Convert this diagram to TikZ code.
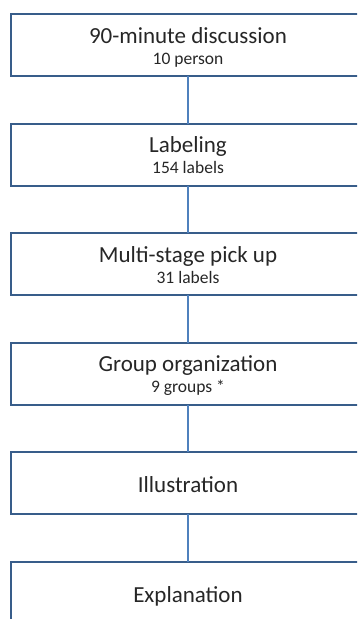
\documentclass[tikz,border=0pt]{standalone}
\usepackage{fontspec}
\setmainfont{Carlito}
\usepackage{tikz}
\usetikzlibrary{positioning}
\definecolor{boxblue}{RGB}{56,93,138}
\definecolor{linkblue}{RGB}{79,129,189}
\definecolor{textgray}{RGB}{38,38,38}
\tikzset{stepbox/.style={
    % The shape:
    rectangle,
    % The size:
    minimum width=354pt,
    minimum height=62pt,
    inner sep=0pt,
    outer sep=0pt,
    % The border:
    line width=2pt,
    draw=boxblue,
    % Font
    font=\fontsize{23}{21}\selectfont,
    text=textgray,
    align=center
    },
    onestep/.style={
    stepbox,
    text height=20pt,
    text depth=2pt,
    },
    link/.style={
    line width=1.3pt,
    draw=linkblue,
    },
}
\newcommand{\steptitle}[1]{\rule{0pt}{22pt}#1}
\newcommand{\substep}[1]{{\fontsize{17.5}{21}\selectfont\rule[-5pt]{0pt}{5pt}#1}}

\begin{document}
\begin{tikzpicture}[x=1pt,y=1pt,node distance = 47.6pt]
    \clip (0,0) rectangle (357,-619);
    \node (discussion) [stepbox] at (188,-45)  {\steptitle{90-minute discussion}\\\substep{10 person}};
    \node (labeling)   [stepbox,below=of discussion] {\steptitle{Labeling}\\\substep{154 labels}};
    \node (pickup)     [stepbox,below=of labeling]   {\steptitle{Multi-stage pick up}\\\substep{31 labels}};
    \node (grouping)   [stepbox,below=of pickup]     {\steptitle{Group organization}\\\substep{9 groups *}};
    \node (illust)     [onestep,below=of grouping]   {Illustration};
    \node (explain)    [onestep,below=of illust]     {Explanation};

    \draw[link] (discussion) -- (labeling);
    \draw[link] (labeling) -- (pickup);
    \draw[link] (pickup) -- (grouping);
    \draw[link] (grouping) -- (illust);
    \draw[link] (illust) -- (explain);
  \end{tikzpicture}
\end{document}
